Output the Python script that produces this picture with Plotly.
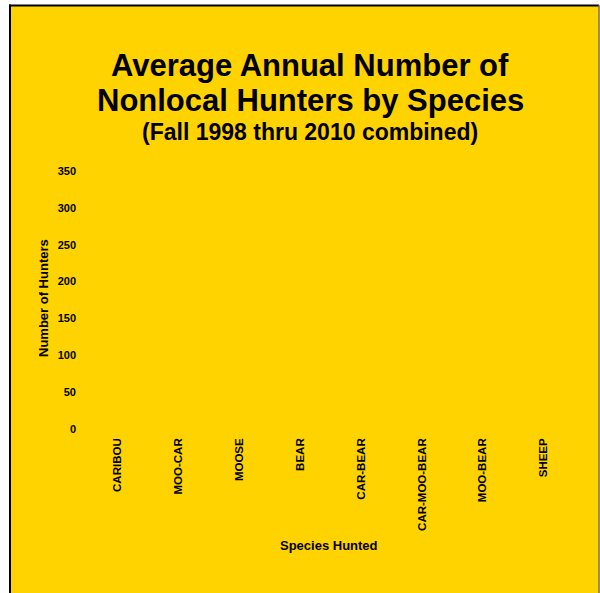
import plotly.graph_objects as go

species = ["CARIBOU", "MOO-CAR", "MOOSE", "BEAR", "CAR-BEAR", "CAR-MOO-BEAR", "MOO-BEAR", "SHEEP"]
hunters = [0, 0, 0, 0, 0, 0, 0, 0]  # no bars are visible in the reference
y_ticks = [0, 50, 100, 150, 200, 250, 300, 350]

W, H = 600, 593
L, R, T, B = 87, 26, 171, 164
pw, ph = W - L - R, H - T - B

def px(x):
    return (x - L) / pw

def py(y):
    return (H - B - y) / ph

YELLOW = "#FFD300"
FONT = "Arial, Liberation Sans, sans-serif"

fig = go.Figure(go.Bar(x=species, y=hunters, marker_color="#000080",
                       marker_line_width=0))

fig.update_layout(
    width=W, height=H,
    margin=dict(l=L, r=R, t=T, b=B),
    paper_bgcolor="white",
    plot_bgcolor="rgba(0,0,0,0)",
    showlegend=False,
    font=dict(family=FONT, color="black"),
    shapes=[
        dict(type="rect", xref="paper", yref="paper", layer="below",
             x0=px(10), x1=px(598.5), y0=py(594), y1=py(6),
             fillcolor=YELLOW, line=dict(width=0)),
        dict(type="line", xref="paper", yref="paper", layer="below",
             x0=px(10), x1=px(10), y0=py(594), y1=py(4.5),
             line=dict(color="black", width=2)),
        dict(type="line", xref="paper", yref="paper", layer="below",
             x0=px(9), x1=px(599), y0=py(5.5), y1=py(5.5),
             line=dict(color="black", width=2)),
        dict(type="line", xref="paper", yref="paper", layer="below",
             x0=px(599), x1=px(599), y0=py(594), y1=py(5),
             line=dict(color="#7a6a30", width=1.5)),
    ],
    annotations=[
        dict(text="<b>Average Annual Number of</b>", xref="paper", yref="paper",
             x=px(310), y=py(66), xanchor="center", yanchor="middle",
             showarrow=False, font=dict(size=31, family=FONT)),
        dict(text="<b>Nonlocal Hunters by Species</b>", xref="paper", yref="paper",
             x=px(310), y=py(101), xanchor="center", yanchor="middle",
             showarrow=False, font=dict(size=31, family=FONT)),
        dict(text="<b>(Fall 1998 thru 2010 combined)</b>", xref="paper", yref="paper",
             x=px(310), y=py(132), xanchor="center", yanchor="middle",
             showarrow=False, font=dict(size=23, family=FONT)),
        dict(text="<b>Number of Hunters</b>", xref="paper", yref="paper",
             x=px(43), y=py(298), xanchor="center", yanchor="middle", textangle=-90,
             showarrow=False, font=dict(size=13, family=FONT)),
        dict(text="<b>Species Hunted</b>", xref="paper", yref="paper",
             x=px(329), y=py(545), xanchor="center", yanchor="middle",
             showarrow=False, font=dict(size=13, family=FONT)),
    ],
)

fig.update_xaxes(
    type="category", tickangle=-90, showgrid=False, showline=False, zeroline=False,
    ticks="", tickfont=dict(size=11.5, family=FONT),
    tickvals=species, ticktext=["<b>%s</b>" % s for s in species],
    ticklabelstandoff=6,
)
fig.update_yaxes(
    range=[0, 350], tickvals=y_ticks, ticktext=["<b>%d</b>" % v for v in y_ticks],
    showgrid=False, showline=False, zeroline=False, ticks="",
    tickfont=dict(size=11, family=FONT), ticklabelstandoff=10,
)

fig.write_html("out.html", config={"displayModeBar": False},
               post_script="document.body.style.margin='0';document.body.style.overflow='hidden';")
